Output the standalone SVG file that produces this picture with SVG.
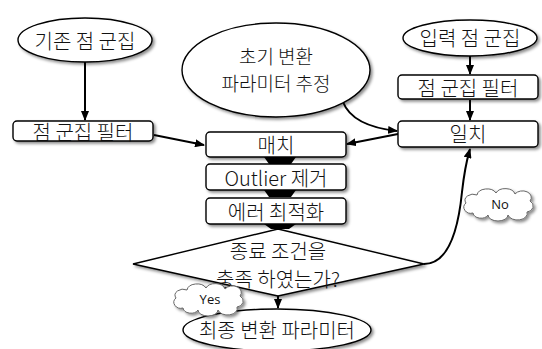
<svg xmlns="http://www.w3.org/2000/svg" width="542" height="349" viewBox="0 0 542 349">
<style>
.shape{fill:#fff;stroke:#000;stroke-width:1.4}
.t{font-family:"Malgun Gothic","Noto Sans CJK KR","Noto Sans",sans-serif;font-size:20px;font-weight:300;fill:#111;text-anchor:middle;dominant-baseline:central}
.t2{font-size:19px}
.c{fill:none;stroke:#000;stroke-width:2}
.cloud{fill:#fff;stroke:#666;stroke-width:1}
.ct{font-family:"Open Sans","Noto Sans",sans-serif;font-size:13px;fill:#111;text-anchor:middle;dominant-baseline:central}
.bar{fill:#000}
</style>
<defs>
<filter id="sh" x="-10%" y="-20%" width="125%" height="160%">
<feDropShadow dx="2" dy="2" stdDeviation="1.5" flood-color="#000" flood-opacity="0.45"/>
</filter>
<marker id="ah" markerWidth="10" markerHeight="8" refX="9" refY="4" orient="auto" markerUnits="userSpaceOnUse">
<path d="M0,0 L10,4 L0,8 Z" fill="#000"/>
</marker>
<path id="cloudp" d="M-25,9 A7,6 0 0 1 -32,-1 A8,6 0 0 1 -21,-9 A10,7 0 0 1 -2,-11 A10,7 0 0 1 17,-10 A8,6 0 0 1 32,-3 A7,6 0 0 1 29,8 A9,6 0 0 1 10,11 A10,6 0 0 1 -10,11 A8,6 0 0 1 -25,9 Z"/>
</defs>

<g id="connectors">
<line class="c" x1="85" y1="62" x2="85" y2="120" marker-end="url(#ah)"/>
<line class="c" x1="154" y1="135" x2="204" y2="145" marker-end="url(#ah)"/>
<line class="c" x1="470" y1="56" x2="470" y2="74" marker-end="url(#ah)"/>
<line class="c" x1="470" y1="100" x2="470" y2="120" marker-end="url(#ah)"/>
<path class="c" d="M343,102 C350,120 370,128 397,131" marker-end="url(#ah)"/>
<line class="c" x1="398" y1="134" x2="347" y2="144" marker-end="url(#ah)"/>
<path class="c" d="M424,264 C448,264 458,232 462,192 C465,165 468,156 470,149" marker-end="url(#ah)"/>
<line class="c" x1="278" y1="296" x2="278" y2="308" stroke-width="1.5" marker-end="url(#ah)"/>
<path class="bar" d="M264,157 L296,157 L291,164 L269,164 Z"/>
<path class="bar" d="M264,190 L296,190 L291,197 L269,197 Z"/>
<path class="bar" d="M264,224 L296,224 L289,229 L271,229 Z"/>
</g>

<g id="n_existing">
<ellipse class="shape" filter="url(#sh)" cx="85" cy="40" rx="67" ry="22"/>
<text class="t" x="85" y="40">기존 점 군집</text>
</g>
<g id="n_filter_left">
<rect class="shape" filter="url(#sh)" x="13" y="121" width="140" height="20" rx="4"/>
<text class="t" x="83" y="131">점 군집 필터</text>
</g>
<g id="n_init">
<ellipse class="shape" filter="url(#sh)" cx="276" cy="70" rx="94" ry="47"/>
<text class="t t2" x="276" y="55">초기 변환</text>
<text class="t t2" x="276" y="82">파라미터 추정</text>
</g>
<g id="n_input">
<ellipse class="shape" filter="url(#sh)" cx="470" cy="38" rx="67" ry="18"/>
<text class="t" x="470" y="37">입력 점 군집</text>
</g>
<g id="n_filter_right">
<rect class="shape" filter="url(#sh)" x="398" y="75" width="140" height="24" rx="4"/>
<text class="t" x="468" y="87">점 군집 필터</text>
</g>
<g id="n_agree">
<rect class="shape" filter="url(#sh)" x="398" y="121" width="140" height="26" rx="4"/>
<text class="t" x="468" y="133">일치</text>
</g>
<g id="n_match">
<rect class="shape" filter="url(#sh)" x="206" y="132" width="140" height="25" rx="4"/>
<text class="t" x="276" y="144">매치</text>
</g>
<g id="n_outlier">
<rect class="shape" filter="url(#sh)" x="206" y="164" width="140" height="26" rx="4"/>
<text class="t" x="276" y="177">Outlier 제거</text>
</g>
<g id="n_error">
<rect class="shape" filter="url(#sh)" x="206" y="198" width="140" height="26" rx="4"/>
<text class="t" x="276" y="211">에러 최적화</text>
</g>
<g id="n_decision">
<polygon class="shape" filter="url(#sh)" points="278,229 424,264 278,296 133,264"/>
<text class="t" x="278" y="250">종료 조건을</text>
<text class="t" x="278" y="278">충족 하였는가?</text>
</g>
<g id="n_final">
<ellipse class="shape" filter="url(#sh)" cx="277" cy="330" rx="94" ry="21"/>
<text class="t" x="277" y="329">최종 변환 파라미터</text>
</g>
<g id="l_yes">
<use href="#cloudp" class="cloud" filter="url(#sh)" transform="translate(208,299)"/>
<text class="ct" x="210" y="299">Yes</text>
</g>
<g id="l_no">
<use href="#cloudp" class="cloud" filter="url(#sh)" transform="translate(498,204)"/>
<text class="ct" x="500" y="204">No</text>
</g>
</svg>
